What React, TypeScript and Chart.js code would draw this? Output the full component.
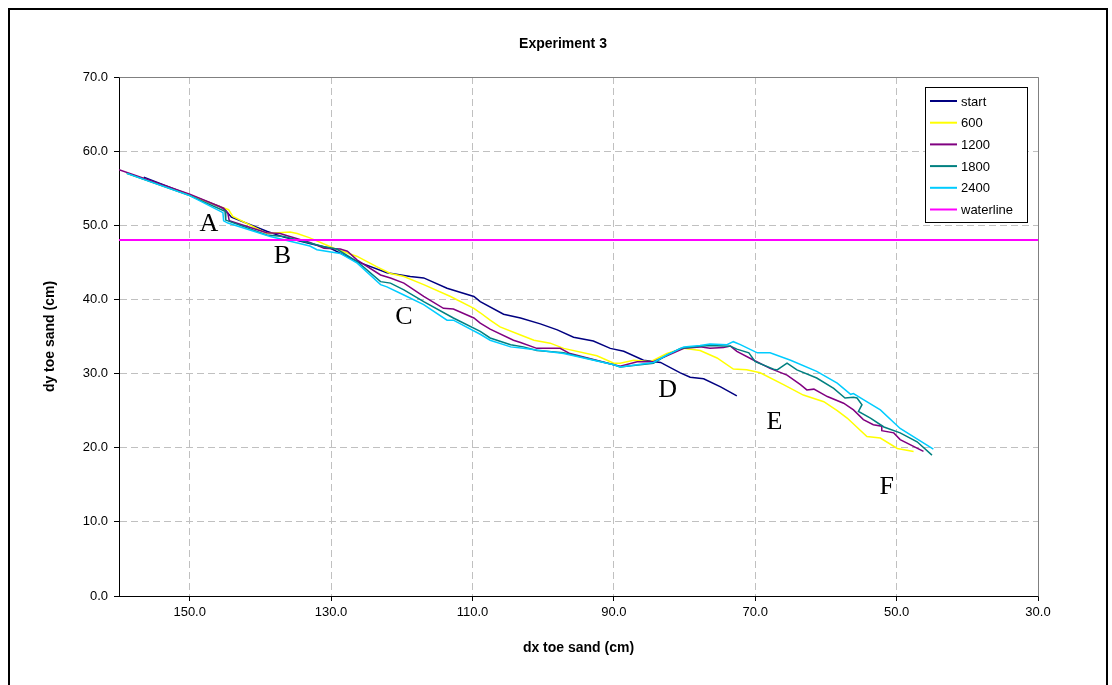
import React, { useEffect, useRef } from 'react';
import { Chart, registerables } from 'chart.js';

Chart.register(...registerables);

// ---- data (dx, dy in cm) ----
const startDx = [156.5,150.0,145.7,145.0,144.1,139.1,136.7,132.9,130.1,126.3,122.1,118.8,116.9,113.6,109.8,108.9,105.6,103.2,100.4,98.0,95.7,92.9,90.5,88.6,85.8,83.4,80.6,79.2,77.3,74.9,72.6];
const startDy = [56.5,54.1,52.5,52.1,51.1,49.2,48.4,47.5,46.9,45.1,43.6,43.1,42.9,41.5,40.4,39.7,38.0,37.5,36.7,35.9,34.9,34.4,33.4,33.0,31.8,31.5,30.1,29.5,29.3,28.2,27.0];

const s600Dx = [158.9,150.0,145.7,144.5,143.9,139.1,135.8,134.8,133.0,129.6,126.3,123.5,121.6,119.7,116.9,113.1,109.8,108.9,107.5,106.1,103.2,101.3,99.0,97.1,92.4,90.0,89.1,87.2,84.8,82.5,80.1,77.8,75.4,73.1,71.2,69.3,66.0,63.2,60.3,58.4,57.0,54.2,52.3,49.9,47.6];
const s600Dy = [57.0,54.1,52.5,52.1,51.2,48.9,49.1,48.9,48.3,46.9,45.8,44.4,43.5,43.1,42.0,40.4,38.8,38.2,37.2,36.3,35.2,34.5,34.1,33.4,32.4,31.4,31.4,31.8,31.6,32.7,33.4,33.1,32.1,30.6,30.5,30.1,28.5,27.1,26.2,25.0,24.0,21.5,21.3,19.9,19.5];

const s1200Dx = [160.0,150.0,145.2,144.6,144.4,139.1,137.2,136.2,133.0,131.0,128.7,127.7,126.3,123.0,121.6,119.7,116.9,114.1,112.7,109.8,108.9,107.5,104.2,103.2,100.9,97.6,96.2,90.0,89.1,86.7,84.4,82.5,80.1,77.8,76.4,74.5,73.5,72.6,70.2,67.9,65.5,63.6,62.7,61.7,59.8,57.5,56.1,54.7,53.3,52.1,52.1,50.4,49.5,46.2];
const s1200Dy = [57.5,54.2,52.3,51.6,50.6,49.0,48.9,48.6,47.7,46.9,46.8,46.5,45.3,43.3,42.9,42.2,40.4,38.8,38.7,37.5,36.8,36.0,34.5,34.2,33.4,33.4,32.7,31.2,31.0,31.6,31.6,32.4,33.4,33.6,33.4,33.5,33.7,33.0,31.8,30.7,29.8,28.5,27.8,27.9,26.9,26.0,25.1,23.8,23.1,22.9,22.3,22.0,21.1,19.5];

const s1800Dx = [158.9,150.0,145.0,144.9,139.1,136.7,133.0,131.0,129.2,126.3,123.0,121.6,119.7,116.9,112.7,108.9,107.5,104.6,102.8,100.9,97.1,90.0,89.1,84.4,82.5,80.6,77.8,76.4,73.5,72.6,70.9,70.0,67.4,66.9,65.5,64.1,61.3,58.9,57.3,56.1,55.6,54.9,55.4,53.7,51.8,49.5,47.1,45.0];
const s1800Dy = [57.0,54.0,51.9,50.7,48.7,48.5,47.6,47.1,46.8,45.1,42.4,42.2,41.3,39.7,37.5,35.7,34.8,33.9,33.6,33.1,32.8,31.2,30.9,31.4,32.5,33.4,33.7,33.8,33.7,33.3,32.8,31.6,30.6,30.5,31.4,30.5,29.4,28.0,26.7,26.8,26.7,25.8,24.9,24.0,22.8,22.0,20.8,19.0];

const s2400Dx = [158.9,150.0,145.3,145.2,144.6,138.6,133.0,132.0,128.7,126.3,123.0,122.1,119.7,116.9,113.6,112.7,108.9,107.5,104.6,102.8,97.1,90.0,89.1,84.4,82.5,80.1,77.8,76.4,74.0,73.1,72.1,69.7,67.9,65.0,61.3,58.4,56.5,56.1,54.7,52.3,49.5,44.8];
const s2400Dy = [57.0,54.0,51.7,50.6,50.3,48.5,47.2,46.7,46.2,44.9,42.0,41.7,40.6,39.3,37.2,37.2,35.3,34.5,33.6,33.4,32.7,31.2,30.9,31.5,32.5,33.6,33.8,34.0,33.9,34.3,33.9,32.8,32.8,31.8,30.3,28.7,27.2,27.3,26.5,25.1,22.6,19.8];

const waterDx = [160, 30];
const waterDy = [48, 48];

const seriesLabels = ['start', '600', '1200', '1800', '2400', 'waterline'];
const seriesColors = ['#000080', '#FFFF00', '#800080', '#008080', '#00CCFF', '#FF00FF'];

const xTicks = [150, 130, 110, 90, 70, 50, 30];

// annotation letters placed in data coordinates
const noteLabels = ['A', 'B', 'C', 'D', 'E', 'F'];
const noteDx = [147.3, 136.9, 119.7, 82.4, 67.3, 51.4];
const noteDy = [50.1, 45.8, 37.6, 27.8, 23.4, 14.7];

const SANS = '"Liberation Sans", Arial, sans-serif';
const SERIF = '"Liberation Serif", "Times New Roman", serif';

function zip(xs: number[], ys: number[]) {
  return xs.map((x, i) => ({ x, y: ys[i] }));
}

const decorPlugin = {
  id: 'decor',
  beforeDatasetsDraw(chart: any) {
    const { ctx, chartArea } = chart;
    ctx.save();
    ctx.strokeStyle = '#808080';
    ctx.lineWidth = 1;
    ctx.beginPath();
    ctx.moveTo(Math.round(chartArea.left) + 0.5, Math.round(chartArea.top) + 0.5);
    ctx.lineTo(Math.round(chartArea.right) + 0.5, Math.round(chartArea.top) + 0.5);
    ctx.lineTo(Math.round(chartArea.right) + 0.5, Math.round(chartArea.bottom) + 0.5);
    ctx.stroke();
    ctx.restore();
  },
  afterDatasetsDraw(chart: any) {
    const { ctx } = chart;
    const xs = chart.scales.x;
    const ys = chart.scales.y;
    ctx.save();
    // letters
    ctx.fillStyle = '#000';
    ctx.font = '26px ' + SERIF;
    ctx.textAlign = 'center';
    ctx.textBaseline = 'middle';
    noteLabels.forEach((t, i) => {
      ctx.fillText(t, xs.getPixelForValue(noteDx[i]), ys.getPixelForValue(noteDy[i]));
    });
    // title
    ctx.font = 'bold 14px ' + SANS;
    ctx.fillText('Experiment 3', 553, 34);
    // legend
    const bx = 915, by = 77, bw = 102, bh = 135;
    ctx.fillStyle = '#fff';
    ctx.fillRect(bx, by, bw, bh);
    ctx.strokeStyle = '#000';
    ctx.lineWidth = 1;
    ctx.strokeRect(bx + 0.5, by + 0.5, bw, bh);
    ctx.font = '13px ' + SANS;
    ctx.textAlign = 'left';
    chart.data.datasets.forEach((ds: any, i: number) => {
      const yy = by + 14 + i * 21.7;
      ctx.strokeStyle = ds.borderColor;
      ctx.lineWidth = 2;
      ctx.beginPath();
      ctx.moveTo(bx + 5, yy);
      ctx.lineTo(bx + 32, yy);
      ctx.stroke();
      ctx.fillStyle = '#000';
      ctx.fillText(ds.label, bx + 36, yy + 1);
    });
    ctx.restore();
  },
};

export default function App() {
  const ref = useRef<HTMLCanvasElement | null>(null);
  useEffect(() => {
    if (!ref.current) return;
    const pairs = [
      zip(startDx, startDy),
      zip(s600Dx, s600Dy),
      zip(s1200Dx, s1200Dy),
      zip(s1800Dx, s1800Dy),
      zip(s2400Dx, s2400Dy),
      zip(waterDx, waterDy),
    ];
    const datasets = pairs.map((data, i) => ({
      label: seriesLabels[i],
      data,
      borderColor: seriesColors[i],
      backgroundColor: seriesColors[i],
      borderWidth: i === 5 ? 2 : 1.5,
      pointRadius: 0,
      showLine: true,
      tension: 0,
      fill: false,
      order: 6 - i,
    }));
    const chart = new Chart(ref.current, {
      type: 'scatter',
      data: { datasets },
      plugins: [decorPlugin],
      options: {
        animation: false,
        responsive: false,
        maintainAspectRatio: false,
        layout: { padding: { left: 0, top: 67, right: 68, bottom: 24 } },
        plugins: {
          legend: { display: false },
          title: { display: false },
          tooltip: { enabled: false },
        },
        scales: {
          x: {
            type: 'linear',
            reverse: true,
            min: 30,
            max: 160,
            afterBuildTicks: (s: any) => {
              s.ticks = xTicks.map((v) => ({ value: v }));
            },
            afterFit: (s: any) => {
              s.height = 80;
            },
            grid: { color: '#c0c0c0', lineWidth: 1, drawTicks: true, tickLength: 5, tickColor: '#000', tickWidth: 1 },
            border: { display: true, color: '#000', width: 1, dash: [7, 4] },
            ticks: {
              padding: 4,
              color: '#000',
              autoSkip: false,
              maxRotation: 0,
              font: { family: SANS, size: 13 },
              callback: (v: any) => Number(v).toFixed(1),
            },
            title: {
              display: true,
              text: 'dx toe sand (cm)',
              color: '#000',
              font: { family: SANS, size: 14, weight: 'bold' },
              padding: { top: 0, bottom: 19 },
            },
          },
          y: {
            type: 'linear',
            min: 0,
            max: 70,
            afterFit: (s: any) => {
              s.width = 109;
            },
            grid: { color: '#c0c0c0', lineWidth: 1, drawTicks: true, tickLength: 5, tickColor: '#000', tickWidth: 1 },
            border: { display: true, color: '#000', width: 1, dash: [7, 4] },
            ticks: {
              stepSize: 10,
              padding: 6,
              color: '#000',
              font: { family: SANS, size: 13 },
              callback: (v: any) => Number(v).toFixed(1),
            },
            title: {
              display: true,
              text: 'dy toe sand (cm)',
              color: '#000',
              font: { family: SANS, size: 14, weight: 'bold' },
              padding: { top: 32, bottom: 0 },
            },
          },
        },
      } as any,
    });
    return () => chart.destroy();
  }, []);

  return (
    <div
      style={{
        position: 'fixed',
        top: 8,
        left: 8,
        border: '2px solid #000',
        width: 1096,
        height: 690,
        background: '#fff',
      }}
    >
      <canvas ref={ref} width={1096} height={690} style={{ display: 'block', width: 1096, height: 690 }} />
    </div>
  );
}
